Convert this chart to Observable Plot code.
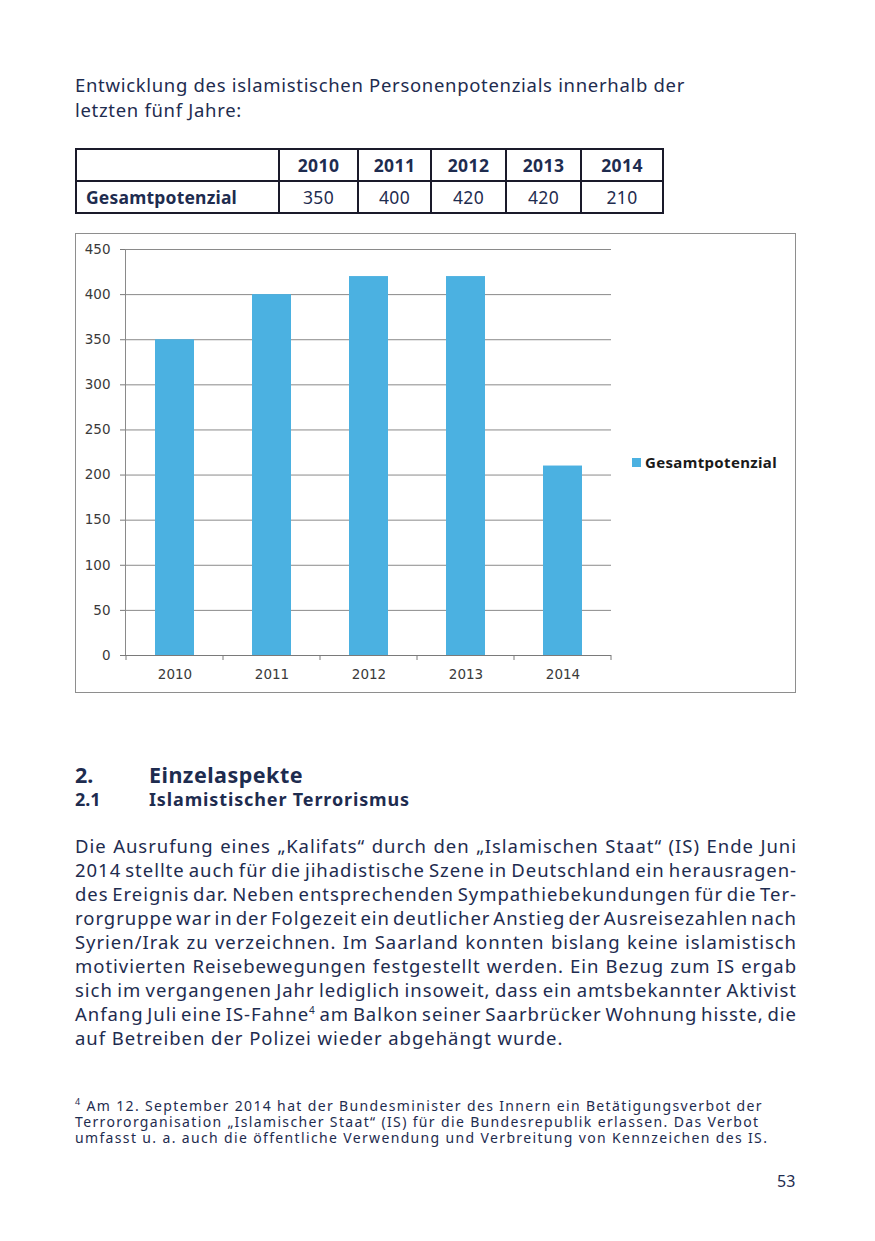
<!DOCTYPE html>
<html>
<head>
<meta charset="utf-8">
<script src="https://cdn.jsdelivr.net/npm/d3@7"></script>
<script src="https://cdn.jsdelivr.net/npm/@observablehq/plot@0.6"></script>
<style>
  html, body { margin: 0; padding: 0; background: #fff; }
  body { width: 875px; height: 1241px; position: relative; overflow: hidden; font-family: "Noto Sans", Lato, sans-serif; color: #1e2c4f; }
  .abs { position: absolute; white-space: nowrap; }
  #title { font-size: 18.5px; line-height: 25px; }
  table { position: absolute; left: 75px; top: 148px; border-collapse: collapse; font-size: 17.5px; table-layout: fixed; }
  td { border: 2px solid #1a1a2a; height: 32px; padding: 0; text-align: center; box-sizing: border-box; letter-spacing: 0.4px; }
  td.h { font-weight: 700; }
  td.lab { text-align: left; padding-left: 9px; font-weight: 700; letter-spacing: 0.2px; }
  #chartbox { left: 75px; top: 233px; width: 719px; height: 458px; border: 1px solid #8e8e8e; }
  #legend { font-family: "Noto Sans", sans-serif; font-weight: 700; font-size: 15px; color: #1a1a1a; display: flex; align-items: center; }
  #legend .sw { width: 9px; height: 9px; margin-right: 4px; flex: none; }
  .h2 { font-weight: 700; font-size: 21.5px; }
  .h3 { font-weight: 700; font-size: 18px; }
  .line { position: absolute; left: 75px; white-space: nowrap; font-size: 18.5px; line-height: 24px; }
  #foot { font-size: 14px; line-height: 16px; }
</style>
</head>
<body>
<script>
// ---------- data ----------
const years = ["2010", "2011", "2012", "2013", "2014"];
const values = [350, 400, 420, 420, 210];
const seriesName = "Gesamtpotenzial";
const yTicks = [0, 50, 100, 150, 200, 250, 300, 350, 400, 450];
const titleLines = [
  "Entwicklung des islamistischen Personenpotenzials innerhalb der",
  "letzten fünf Jahre:"
];
const bodyLines = [
  "Die Ausrufung eines „Kalifats“ durch den „Islamischen Staat“ (IS) Ende Juni",
  "2014 stellte auch für die jihadistische Szene in Deutschland ein herausragen-",
  "des Ereignis dar. Neben entsprechenden Sympathiebekundungen für die Ter-",
  "rorgruppe war in der Folgezeit ein deutlicher Anstieg der Ausreisezahlen nach",
  "Syrien/Irak zu verzeichnen. Im Saarland konnten bislang keine islamistisch",
  "motivierten Reisebewegungen festgestellt werden. Ein Bezug zum IS ergab",
  "sich im vergangenen Jahr lediglich insoweit, dass ein amtsbekannter Aktivist",
  "Anfang Juli eine IS-Fahne<sup style='font-size:10px;vertical-align:7px;line-height:0'>4</sup> am Balkon seiner Saarbrücker Wohnung hisste, die",
  "auf Betreiben der Polizei wieder abgehängt wurde."
];
const footLines = [
  "<sup style='font-size:9px;vertical-align:6px;line-height:0'>4</sup> Am 12. September 2014 hat der Bundesminister des Innern ein Betätigungsverbot der",
  "Terrororganisation „Islamischer Staat“ (IS) für die Bundesrepublik erlassen. Das Verbot",
  "umfasst u. a. auch die öffentliche Verwendung und Verbreitung von Kennzeichen des IS."
];
const data = years.map((y, i) => ({year: y, value: values[i]}));
const barColor = "#4bb1e1";

// helper: fit the letter-spacing of an element so that its widest line reaches a target width
function fitSpacing(el, target, nChars) {
  el.style.letterSpacing = "0px";
  const w = el.getBoundingClientRect().width;
  el.style.letterSpacing = ((target - w) / nChars) + "px";
}
function addAbs(html, cls, left, top) {
  const d = document.createElement("div");
  d.className = "abs " + cls;
  d.style.left = left + "px"; d.style.top = top + "px";
  d.innerHTML = html;
  document.body.appendChild(d);
  return d;
}

// ---------- title ----------
const t = addAbs(titleLines.join("<br>"), "", 75, 72);
t.id = "title";
fitSpacing(t, 610, titleLines[0].length);

// ---------- table ----------
const tbl = document.createElement("table");
const colW = [203, 79, 73, 75, 75, 82];
tbl.style.width = colW.reduce((a, b) => a + b, 0) + "px";
let r1 = "<tr><td style='width:" + colW[0] + "px'></td>" + years.map((y, i) => `<td class='h' style='width:${colW[i+1]}px'>${y}</td>`).join("") + "</tr>";
let r2 = `<tr><td class='lab'>${seriesName}</td>` + values.map(v => `<td>${v}</td>`).join("") + "</tr>";
tbl.innerHTML = r1 + r2;
document.body.appendChild(tbl);

// ---------- chart ----------
const box = document.createElement("div");
box.id = "chartbox"; box.className = "abs";
document.body.appendChild(box);

const boundaryTicks = (index, scales, values, dims, context) => {
  const x = scales.x, bw = x.bandwidth ? x.bandwidth() : scales.scales.x.bandwidth;
  const xs = years.map(y => x(y));
  const gap = (xs[1] - xs[0]) - bw;
  const bounds = xs.map(v => v - gap / 2).concat([xs[xs.length - 1] + bw + gap / 2]);
  const y0 = scales.y(0);
  const g = d3.create("svg:g");
  g.selectAll("line").data(bounds).join("line")
    .attr("x1", d => d).attr("x2", d => d)
    .attr("y1", y0).attr("y2", y0 + 5)
    .attr("stroke", "#7a7a7a").attr("stroke-width", 1);
  return g.node();
};

const plot = Plot.plot({
  width: 719,
  height: 458,
  marginLeft: 49,
  marginRight: 184,
  marginTop: 15,
  marginBottom: 37,
  style: {fontFamily: "DejaVu Sans, Verdana, sans-serif", fontSize: "13.5px", color: "#3a3a3a", background: "transparent"},
  x: {domain: years, paddingInner: 0.6, paddingOuter: 0.3, label: null},
  y: {domain: [0, 450], label: null},
  marks: [
    Plot.ruleY(yTicks, {stroke: "#8a8a8a", strokeWidth: 1}),
    Plot.barY(data, {x: "year", y: "value", fill: barColor}),
    Plot.frame({anchor: "left", stroke: "#8a8a8a"}),
    Plot.ruleY([0], {stroke: "#7a7a7a"}),
    Plot.axisY({ticks: yTicks, tickSize: 5, tickPadding: 10, stroke: "#7a7a7a", label: null, tickFormat: d => String(d)}),
    Plot.axisX({tickSize: 0, tickPadding: 14, label: null}),
    boundaryTicks
  ]
});
box.appendChild(plot);

const lg = addAbs(`<span class='sw' style='background:${barColor}'></span><span id='lgtext'>${seriesName}</span>`, "", 632, 452);
lg.id = "legend";
fitSpacing(document.getElementById("lgtext"), 132, seriesName.length);

// ---------- headings ----------
addAbs("2.", "h2", 75, 760);
fitSpacing(addAbs("Einzelaspekte", "h2", 149, 760), 154, 13);
addAbs("2.1", "h3", 75, 787);
fitSpacing(addAbs("Islamistischer Terrorismus", "h3", 149, 787), 261, 26);

// ---------- body text (justified lines) ----------
const fullW = 722;
const bodyDivs = bodyLines.map((txt, i) => {
  const d = document.createElement("div");
  d.className = "line";
  d.style.top = (834 + i * 24) + "px";
  d.innerHTML = txt;
  document.body.appendChild(d);
  return d;
});
fitSpacing(bodyDivs[0], 714, bodyDivs[0].textContent.length);
const ls = bodyDivs[0].style.letterSpacing;
bodyDivs.forEach((d, i) => {
  d.style.letterSpacing = ls;
  if (i < bodyDivs.length - 1) {
    const w = d.getBoundingClientRect().width;
    const spaces = (d.textContent.match(/ /g) || []).length;
    if (spaces > 0) d.style.wordSpacing = ((fullW - w) / spaces) + "px";
  }
});

// ---------- footnote (one line per element) ----------
const fnDivs = footLines.map((txt, i) => {
  const d = addAbs(txt, "", 75, 1098 + i * 16);
  d.id = "foot" + i;
  d.style.fontSize = "14px";
  d.style.lineHeight = "16px";
  return d;
});
fitSpacing(fnDivs[0], 692, 86);
fnDivs.forEach(d => d.style.letterSpacing = fnDivs[0].style.letterSpacing);

const pn = addAbs("53", "", 777, 1170);
pn.style.fontSize = "16px";
</script>
</body>
</html>
